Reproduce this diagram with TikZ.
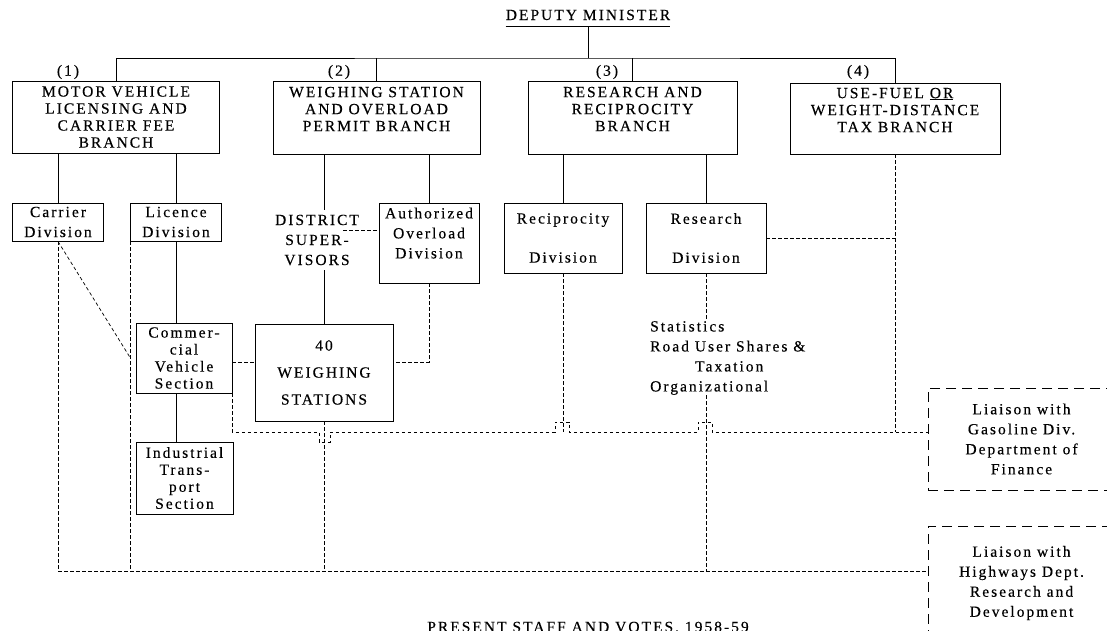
\documentclass[tikz,border=0pt]{standalone}
\usepackage{fontspec}
\setmainfont{Liberation Serif}[LetterSpace=13, FakeBold=0.3]
\usetikzlibrary{calc}

\begin{document}
\begin{tikzpicture}[x=1pt,y=-1pt,
    branch/.style={draw, line width=0.9pt, align=center, inner sep=2pt, font=\fontsize{15.5}{17}\selectfont},
    division/.style={draw, line width=0.9pt, align=center, inner sep=1pt, font=\fontsize{15.5}{20}\selectfont},
    liaison/.style={draw, line width=0.7pt, dash pattern=on 10pt off 6pt, align=center, font=\fontsize{15.5}{20}\selectfont},
    note/.style={align=center, font=\fontsize{15.5}{20}\selectfont},
    link/.style={line width=0.9pt},
    dashline/.style={line width=0.7pt, dash pattern=on 3.5pt off 2.5pt}]
    \useasboundingbox (0,0) rectangle (1107,630);
    \clip (0,0) rectangle (1107,630);

    % Title
    \node[note, anchor=base, inner xsep=0pt, inner ysep=6pt] (dm) at (588,20) {DEPUTY MINISTER};
    \draw[link] (dm.south west) -- (dm.south east);
    \coordinate (bar) at (588,58);
    \coordinate (gasrow) at (0,432);
    \coordinate (botrow) at (0,571);

    % Branches
    \node[branch, minimum width=207pt, minimum height=72pt] (b1) at (116,117) {MOTOR VEHICLE\\LICENSING AND\\CARRIER FEE\\BRANCH};
    \node[branch, minimum width=207pt, minimum height=73pt] (b2) at (376.5,117.5) {WEIGHING STATION\\AND OVERLOAD\\PERMIT BRANCH\\~};
    \node[branch, minimum width=209pt, minimum height=73pt] (b3) at (632.5,117.5) {RESEARCH AND\\RECIPROCITY\\BRANCH\\~};
    \node[branch, minimum width=210pt, minimum height=71pt] (b4) at (895,118.5) {USE-FUEL \underline{OR}\\WEIGHT-DISTANCE\\TAX BRANCH\\~};
    \node[note] (n1) at (68,72) {(1)};
    \node[note] (n2) at (339,72) {(2)};
    \node[note] (n3) at (607,72) {(3)};
    \node[note] (n4) at (858,72) {(4)};

    \draw[link] (dm.south) -- (bar);
    \draw[link] (b1.north) |- (bar) -| (b4.north);
    \draw[link] (b2.north) -- (b2.north |- bar);
    \draw[link] (b3.north) -- (b3.north |- bar);

    % Divisions
    \node[division, minimum width=91.5pt, minimum height=38pt] (carrier) at (58,222) {Carrier\\Division};
    \node[division, minimum width=91pt, minimum height=38pt] (licence) at (176,222) {Licence\\Division};
    \node[note, inner sep=5pt] (dist) at (317,240) {DISTRICT\\SUPER-\\VISORS};
    \node[division, minimum width=100pt, minimum height=80pt] (auth) at (429,243) {Authorized\\Overload\\Division\\~};
    \node[division, minimum width=118pt, minimum height=70pt] (recip) at (563,238) {Reciprocity\\[19pt]Division};
    \node[division, minimum width=120pt, minimum height=70pt] (research) at (706,238) {Research\\[19pt]Division};

    \draw[link] (carrier.north) -- (carrier.north |- b1.south);
    \draw[link] (licence.north) -- (licence.north |- b1.south);
    \draw[link] (auth.north) -- (auth.north |- b2.south);
    \draw[link] (recip.north) -- (recip.north |- b3.south);
    \draw[link] (research.north) -- (research.north |- b3.south);
    \coordinate (supr) at (343,230);
    \draw[dashline] (supr) -- (supr -| auth.west);
    \draw[dashline] (research.east) -- (research.east -| b4.south);

    % Sections and stations
    \node[branch, minimum width=96pt, minimum height=70pt, inner sep=1pt] (comm) at (184,358) {Commer-\\cial\\Vehicle\\Section};
    \node[branch, minimum width=97pt, minimum height=72pt, inner sep=1pt] (ind) at (184.5,478) {Industrial\\Trans-\\port\\Section};
    \node[division, minimum width=138pt, minimum height=97pt, font=\fontsize{15.5}{27}\selectfont] (ws) at (324,372.5) {40\\WEIGHING\\STATIONS};
    \node[note, align=left, anchor=west, inner sep=0pt] (stats) at (650,358) {Statistics\\Road User Shares \&\\\hspace*{45pt}Taxation\\Organizational};

    \draw[link] (b2.south -| ws.north) -- (ws.north |- dist.north);
    \draw[link] (ws.north) -- (ws.north |- dist.south);
    \draw[link] (licence.south) -- (licence.south |- comm.north);
    \draw[link] (licence.south |- comm.south) -- (licence.south |- ind.north);
    \draw[dashline] (auth.south) |- ($(ws.east)+(0,-10.5)$);
    \draw[dashline] ($(comm.east)+(0,4)$) -- ($(ws.west)+(0,-10.5)$);
    \draw[dashline] (research.south) -- (research.south |- stats.north);

    % Liaison boxes
    \node[liaison, minimum width=187pt, minimum height=102pt] (gas) at (1021.5,439) {Liaison with\\Gasoline Div.\\Department of\\Finance};
    \node[liaison, minimum width=187pt, minimum height=114pt] (hwy) at (1021.5,583) {Liaison with\\Highways Dept.\\Research and\\Development};

    % Liaison lines
    \draw[dashline] (b4.south) -- (b4.south |- gasrow);
    \draw[dashline] (recip.south) -- (recip.south |- gasrow);
    \draw[dashline] (comm.south east) |- ($(ws.south |- gasrow)+(-5,0)$) -- ++(0,10) -- ++(11,0) -- ++(0,-10)
        -- ($(recip.south |- gasrow)+(-8,0)$) -- ++(0,-10) -- ++(14,0) -- ++(0,10)
        -- ($(research.south |- gasrow)+(-8,0)$) -- ++(0,-10) -- ++(14,0) -- ++(0,10)
        -- (gas.west |- gasrow);
    \draw[dashline] (carrier.south) |- (hwy.west |- botrow);
    \draw[dashline] (carrier.south) -- ($(licence.south west)+(0,116)$);
    \draw[dashline] (licence.south west) -- (licence.south west |- botrow);
    \draw[dashline] (ws.south) -- (ws.south |- botrow);
    \draw[dashline] (research.south |- stats.south) -- (research.south |- botrow);

    % Caption
    \node[note, anchor=base] (cap) at (588,632) {PRESENT STAFF AND VOTES, 1958-59};
\end{tikzpicture}
\end{document}
